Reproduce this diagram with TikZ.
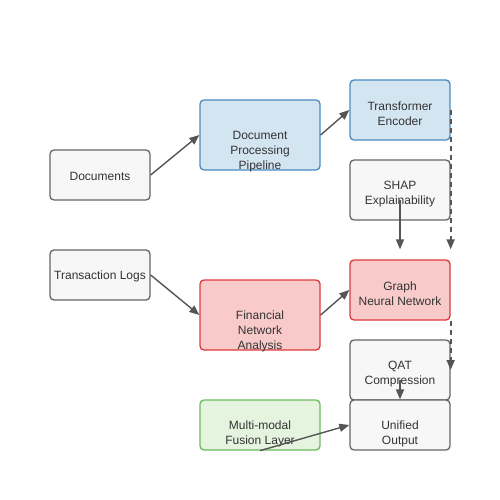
\documentclass[tikz,border=0pt]{standalone}
\usepackage{fontspec}
\setmainfont{Liberation Sans}
\usetikzlibrary{arrows.meta,calc}
\definecolor{txt}{HTML}{333333}
\definecolor{grayfill}{HTML}{F7F7F7}
\definecolor{graydraw}{HTML}{666666}
\definecolor{bluefill}{HTML}{D4E5F2}
\definecolor{bluedraw}{HTML}{4A8BC2}
\definecolor{redfill}{HTML}{F8CACA}
\definecolor{reddraw}{HTML}{DB3A3D}
\definecolor{greenfill}{HTML}{E5F4DF}
\definecolor{greendraw}{HTML}{6BBA5F}
\definecolor{arr}{HTML}{555555}
\tikzset{
  box/.style={draw, rounded corners=4pt, line width=1.3pt, inner sep=0pt},
  graybox/.style={box, fill=grayfill, draw=graydraw},
  bluebox/.style={box, fill=bluefill, draw=bluedraw},
  redbox/.style={box, fill=redfill, draw=reddraw},
  greenbox/.style={box, fill=greenfill, draw=greendraw},
  lbl/.style={text=txt, font=\fontsize{12}{15}\selectfont, align=center, inner sep=0pt, yshift=-1.5pt},
  conn/.style={draw=arr, line width=1.4pt, -{Triangle[length=10pt,width=8pt]}},
  dconn/.style={conn, line width=1.8pt, dash pattern=on 5pt off 4pt}
}
\begin{document}
\begin{tikzpicture}[x=1pt,y=-1pt]
\useasboundingbox (0,0) rectangle (500,500);
% boxes
\node[graybox, minimum width=100pt, minimum height=50pt] (docs) at (100,175) {};
\node[graybox, minimum width=100pt, minimum height=50pt] (tlogs) at (100,275) {};
\node[bluebox, minimum width=120pt, minimum height=70pt] (pipe) at (260,135) {};
\node[redbox, minimum width=120pt, minimum height=70pt] (fin) at (260,315) {};
\node[greenbox, minimum width=120pt, minimum height=50pt] (fusion) at (260,425) {};
\node[bluebox, minimum width=100pt, minimum height=60pt] (trans) at (400,110) {};
\node[graybox, minimum width=100pt, minimum height=60pt] (shap) at (400,190) {};
\node[redbox, minimum width=100pt, minimum height=60pt] (gnn) at (400,290) {};
\node[graybox, minimum width=100pt, minimum height=60pt] (qat) at (400,370) {};
\node[graybox, minimum width=100pt, minimum height=50pt] (out) at (400,425) {};
% labels
\node[lbl] (tdocs) at (100,175) {Documents};
\node[lbl] (ttlogs) at (100,275) {Transaction Logs};
\node[lbl] (tpipe) at (260,150) {Document\\Processing\\Pipeline};
\node[lbl] (tfin) at (260,330) {Financial\\Network\\Analysis};
\node[lbl] (tfusion) at (260,432.5) {Multi-modal\\Fusion Layer};
\node[lbl] (ttrans) at (400,112.5) {Transformer\\Encoder};
\node[lbl] (tshap) at (400,192.5) {SHAP\\Explainability};
\node[lbl] (tgnn) at (400,292.5) {Graph\\Neural Network};
\node[lbl] (tqat) at (400,372.5) {QAT\\Compression};
\node[lbl] (tout) at (400,432.5) {Unified\\Output};
% connectors
\coordinate (dend) at ($(gnn.north east)+(0,-10)$);
\coordinate (sstart) at ($(shap.center)+(0,10)$);
\coordinate (send) at ($(gnn.north)+(0,-10)$);
\coordinate (qstart) at ($(qat.center)+(0,10)$);
\draw[conn] (docs.east) -- (pipe.west);
\draw[conn] (tlogs.east) -- (fin.west);
\draw[conn] (pipe.east) -- (trans.west);
\draw[conn] (fin.east) -- (gnn.west);
\draw[dconn] (trans.east) -- (dend);
\draw[conn] (sstart) -- (send);
\draw[dconn] (gnn.south east) -- (qat.east);
\draw[conn] (qstart) -- (out.north);
\draw[conn] (fusion.south) -- (out.west);
\end{tikzpicture}
\end{document}
